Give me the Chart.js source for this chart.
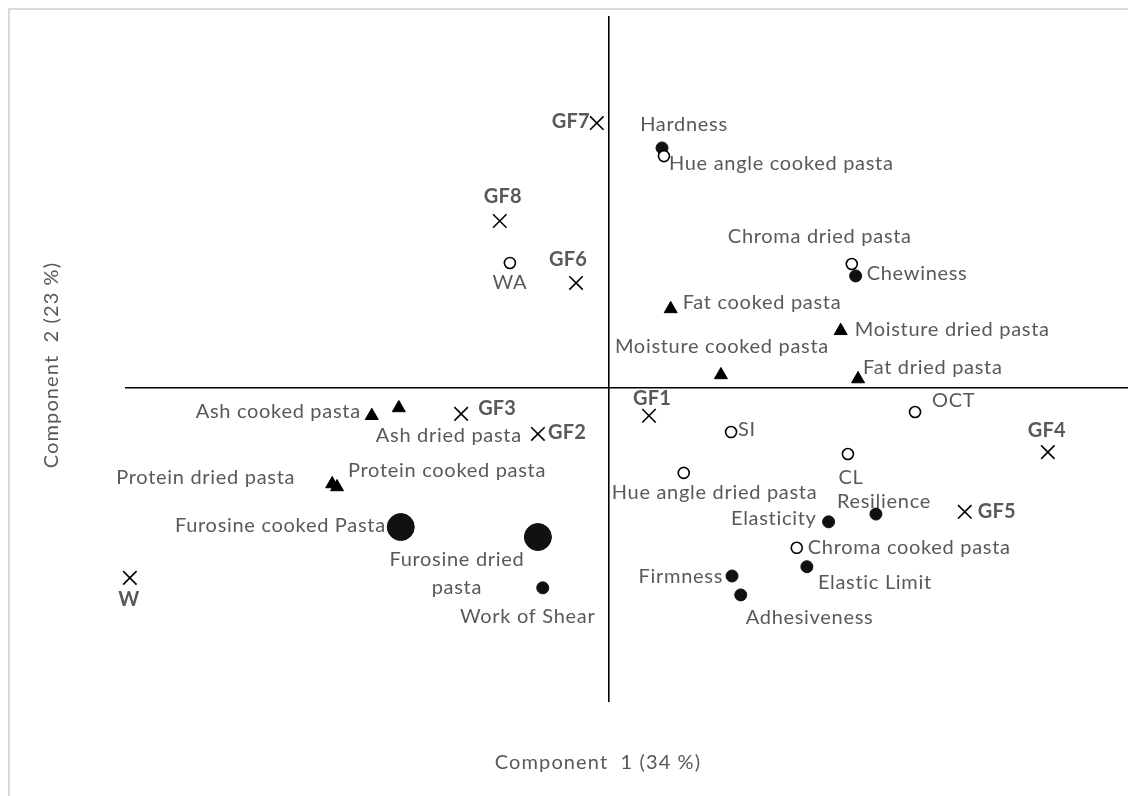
<!DOCTYPE html>
<html>
<head>
<meta charset="utf-8">
<script src="https://cdn.jsdelivr.net/npm/chart.js@4.4.1/dist/chart.umd.min.js"></script>
<style>
  html, body { margin: 0; padding: 0; background: #fff; overflow: hidden; }
  #wrap { position: relative; width: 1128px; height: 796px; overflow: hidden; }
  #frame { position: absolute; left: 8px; top: 8px; width: 1300px; height: 1000px; border: 2px solid #d9d9d9; box-sizing: border-box; }
  canvas { position: absolute; left: 0; top: 0; }
</style>
</head>
<body>
<div id="wrap">
  <div id="frame"></div>
  <canvas id="c" width="1128" height="796"></canvas>
</div>
<script>
// ---- Data (PCA scores / loadings) ----
const axisTitleX = 'Component  1 (34 %)';
const axisTitleY = 'Component  2 (23 %)';

// Samples (crosses)
const sampleNames = ['GF1', 'GF2', 'GF3', 'GF4', 'GF5', 'GF6', 'GF7', 'GF8', 'W'];
const sampleX = [0.083, -0.147, -0.306, 0.909, 0.737, -0.068, -0.025, -0.226, -0.992];
const sampleY = [-0.075, -0.124, -0.070, -0.173, -0.334, 0.283, 0.714, 0.450, -0.512];

// Colour / water variables (open circles)
const openNames = ['Hue angle cooked pasta', 'WA', 'Chroma dried pasta', 'SI', 'Hue angle dried pasta', 'OCT', 'CL', 'Chroma cooked pasta'];
const openX = [0.114, -0.205, 0.503, 0.253, 0.155, 0.634, 0.495, 0.389];
const openY = [0.625, 0.337, 0.334, -0.119, -0.229, -0.065, -0.178, -0.431];

// Texture variables (filled circles)
const textureNames = ['Hardness', 'Chewiness', 'Resilience', 'Elasticity', 'Elastic Limit', 'Firmness', 'Adhesiveness', 'Work of Shear'];
const textureX = [0.110, 0.511, 0.553, 0.455, 0.410, 0.255, 0.273, -0.137];
const textureY = [0.647, 0.302, -0.340, -0.361, -0.482, -0.507, -0.558, -0.539];

// Furosine (large filled circles)
const furosineNames = ['Furosine cooked Pasta', 'Furosine dried pasta'];
const furosineX = [-0.431, -0.147];
const furosineY = [-0.375, -0.402];

// Composition variables (triangles)
const compNames = ['Fat cooked pasta', 'Moisture cooked pasta', 'Moisture dried pasta', 'Fat dried pasta', 'Ash cooked pasta', 'Ash dried pasta', 'Protein dried pasta', 'Protein cooked pasta'];
const compX = [0.128, 0.232, 0.480, 0.516, -0.491, -0.435, -0.573, -0.563];
const compY = [0.213, 0.035, 0.154, 0.024, -0.075, -0.054, -0.259, -0.267];

// ---- Label placement (layout only): [align, dx, dy] relative to marker ----
const labelLayout = {
  'GF1': ['center', 3, -17], 'GF2': ['left', 10, -1], 'GF3': ['left', 17, -5],
  'GF4': ['center', -1, -22], 'GF5': ['left', 13, 0], 'GF6': ['center', -8, -23],
  'GF7': ['right', -7, -2], 'GF8': ['center', 3, -24], 'W': ['center', -1, 22],
  'Hue angle cooked pasta': ['left', 5, 7], 'WA': ['center', 0, 20],
  'Chroma dried pasta': ['center', -32, -27], 'SI': ['left', 7, -3],
  'Hue angle dried pasta': ['left', -72, 20], 'OCT': ['left', 17, -11],
  'CL': ['center', 3, 24], 'Chroma cooked pasta': ['left', 11, 0],
  'Hardness': ['center', 22, -23], 'Chewiness': ['left', 11, -2],
  'Resilience': ['center', 8, -13], 'Elasticity': ['right', -12, -3],
  'Elastic Limit': ['left', 11, 16], 'Firmness': ['right', -9, 1],
  'Adhesiveness': ['left', 5, 23], 'Work of Shear': ['center', -15, 29],
  'Furosine cooked Pasta': ['right', -15, -1],
  'Furosine dried pasta': ['center', -81, 22, ['Furosine dried', 'pasta'], 28],
  'Fat cooked pasta': ['left', 12, -6], 'Moisture cooked pasta': ['center', 1, -28],
  'Moisture dried pasta': ['left', 14, -1], 'Fat dried pasta': ['left', 5, -11],
  'Ash cooked pasta': ['right', -11, -4], 'Ash dried pasta': ['center', 50, 28],
  'Protein dried pasta': ['right', -37, -6], 'Protein cooked pasta': ['left', 11, -16]
};

const FONT = 'Lato, "Open Sans", sans-serif';
const TEXT = '#595959';

function pts(names, xs, ys) {
  return names.map((n, i) => ({ x: xs[i], y: ys[i], name: n }));
}

const labelPlugin = {
  id: 'pointLabels',
  afterDatasetsDraw(chart) {
    const ctx = chart.ctx;
    ctx.save();
    ctx.fillStyle = TEXT;
    ctx.textBaseline = 'middle';
    chart.data.datasets.forEach((ds, di) => {
      const meta = chart.getDatasetMeta(di);
      const bold = ds.boldLabels;
      ctx.font = (bold ? 'bold ' : '') + '20px ' + FONT;
      ctx.letterSpacing = bold ? '0.2px' : '0.7px';
      meta.data.forEach((el, i) => {
        const name = ds.data[i].name;
        const lay = labelLayout[name];
        if (!lay) return;
        ctx.textAlign = lay[0];
        const lines = lay[3] || [name];
        const lh = lay[4] || 0;
        lines.forEach((t, k) => ctx.fillText(t, el.x + lay[1], el.y + lay[2] + k * lh));
      });
    });
    // axis titles
    ctx.font = '20px ' + FONT;
    ctx.letterSpacing = '1.1px';
    ctx.textAlign = 'center';
    ctx.fillText(axisTitleX, 598, 763);
    ctx.translate(52, 365);
    ctx.rotate(-Math.PI / 2);
    ctx.fillText(axisTitleY, 0, 0);
    ctx.restore();
  }
};

new Chart(document.getElementById('c'), {
  type: 'scatter',
  data: {
    datasets: [
      { data: pts(compNames, compX, compY), pointStyle: 'triangle', pointRadius: 7.5, backgroundColor: '#000', borderColor: '#000', borderWidth: 1 },
      { data: pts(openNames, openX, openY), pointStyle: 'circle', pointRadius: 5.5, backgroundColor: '#fff', borderColor: '#000', borderWidth: 1.6 },
      { data: pts(textureNames, textureX, textureY), pointStyle: 'circle', pointRadius: 6, backgroundColor: '#111', borderColor: '#111', borderWidth: 1 },
      { data: pts(furosineNames, furosineX, furosineY), pointStyle: 'circle', pointRadius: 13.5, backgroundColor: '#111', borderColor: '#111', borderWidth: 1 },
      { data: pts(sampleNames, sampleX, sampleY), pointStyle: 'crossRot', pointRadius: 9.5, backgroundColor: '#000', borderColor: '#000', borderWidth: 1.6, boldLabels: true }
    ]
  },
  options: {
    responsive: false,
    animation: false,
    devicePixelRatio: 1,
    layout: { autoPadding: false, padding: { left: 126, top: 17, right: 0, bottom: 95 } },
    datasets: { scatter: { clip: false } },
    plugins: { legend: { display: false }, tooltip: { enabled: false } },
    scales: {
      x: {
        type: 'linear', min: -1, max: 1.075, position: { y: 0 },
        ticks: { display: false }, grid: { display: false, drawTicks: false },
        border: { display: true, color: '#000', width: 1.6 }
      },
      y: {
        type: 'linear', min: -0.844, max: 1, position: { x: 0 },
        ticks: { display: false }, grid: { display: false, drawTicks: false },
        border: { display: true, color: '#000', width: 1.6 }
      }
    }
  },
  plugins: [labelPlugin]
});
</script>
</body>
</html>
